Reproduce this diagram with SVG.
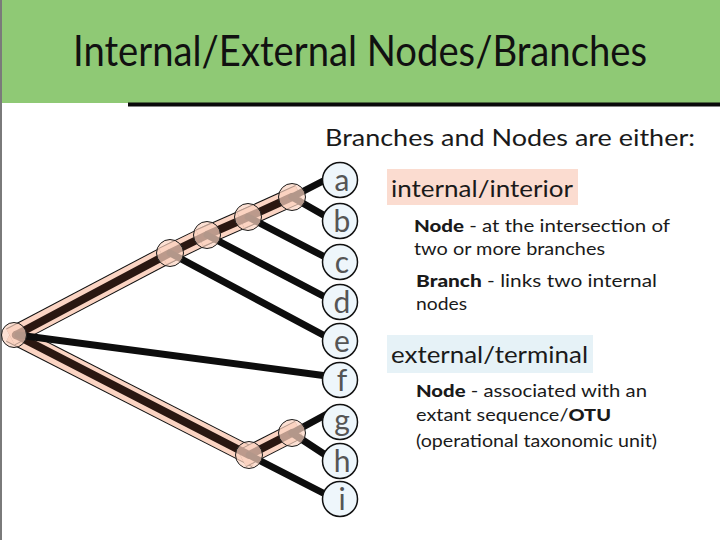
<svg xmlns="http://www.w3.org/2000/svg" width="720" height="540" viewBox="0 0 720 540">
<style>
text{font-family:Lato,"Open Sans","DejaVu Sans",sans-serif}
.title{font-size:43px;fill:#111}
.sub{font-size:23px;fill:#1a1a1a}
.hd{font-size:23.5px;fill:#1a1a1a}
.body{font-size:17px;fill:#1a1a1a}
.b{font-weight:900}
.leaf circle{fill:#eef6fb;stroke:#111;stroke-width:1.5}
.leaf text{font-size:30px;fill:#555;text-anchor:middle}
.inode circle{fill:#fbd3c1;fill-opacity:0.7;stroke:#1a1a1a;stroke-width:1}
.bandO{stroke:#111;stroke-width:19;stroke-linecap:butt}
.bandI{stroke:#fbd4c3;stroke-width:17;stroke-linecap:butt}
.dark{fill:none;stroke:#2a1711;stroke-width:8;stroke-linejoin:round;stroke-linecap:round}
.edge{stroke:#0d0d0d;stroke-width:7;stroke-linecap:round}
</style>
<rect x="0" y="0" width="720" height="540" fill="#ffffff"/>
<rect x="0" y="0" width="720" height="103" fill="#8fc975"/>
<rect x="128" y="102.5" width="592" height="4" fill="#0a0a0a"/>
<rect x="0" y="0" width="2" height="540" fill="#7a7a7a"/>
<text class="title" x="73" y="66" textLength="574" lengthAdjust="spacingAndGlyphs">Internal/External Nodes/Branches</text>

<text class="sub" x="325" y="146" textLength="370" lengthAdjust="spacingAndGlyphs">Branches and Nodes are either:</text>
<rect x="387" y="169" width="191" height="36" fill="#fbdcd0"/>
<text class="hd" x="391" y="197" textLength="182" lengthAdjust="spacingAndGlyphs">internal/interior</text>
<text class="body" x="414" y="232" textLength="256" lengthAdjust="spacingAndGlyphs"><tspan class="b">Node</tspan> - at the intersection of</text>
<text class="body" x="414" y="255" textLength="191" lengthAdjust="spacingAndGlyphs">two or more branches</text>
<text class="body" x="416" y="287" textLength="241" lengthAdjust="spacingAndGlyphs"><tspan class="b">Branch</tspan> - links two internal</text>
<text class="body" x="416" y="310" textLength="51" lengthAdjust="spacingAndGlyphs">nodes</text>
<rect x="387" y="335" width="206" height="38" fill="#e6f2f7"/>
<text class="hd" x="391" y="363" textLength="197" lengthAdjust="spacingAndGlyphs">external/terminal</text>
<text class="body" x="416" y="397" textLength="231" lengthAdjust="spacingAndGlyphs"><tspan class="b">Node</tspan> - associated with an</text>
<text class="body" x="416" y="421" textLength="195" lengthAdjust="spacingAndGlyphs">extant sequence/<tspan class="b">OTU</tspan></text>
<text class="body" x="416" y="447" textLength="241" lengthAdjust="spacingAndGlyphs">(operational taxonomic unit)</text>

<g id="connectors">
  <line class="bandO" x1="10.4" y1="333.2" x2="256.1" y2="458.6"/>
  <line class="bandI" x1="10.4" y1="333.2" x2="256.1" y2="458.6"/>
  <line class="bandO" x1="241.9" y1="458.6" x2="299.1" y2="429.4"/>
  <line class="bandI" x1="241.9" y1="458.6" x2="299.1" y2="429.4"/>
  <line class="bandO" x1="10.5" y1="336.9" x2="177.1" y2="249.3"/>
  <line class="bandI" x1="10.5" y1="336.9" x2="177.1" y2="249.3"/>
  <line class="bandO" x1="162.8" y1="256.5" x2="214.2" y2="231.5"/>
  <line class="bandI" x1="162.8" y1="256.5" x2="214.2" y2="231.5"/>
  <line class="bandO" x1="199.7" y1="238.2" x2="255.3" y2="213.8"/>
  <line class="bandI" x1="199.7" y1="238.2" x2="255.3" y2="213.8"/>
  <line class="bandO" x1="240.7" y1="220.3" x2="299.3" y2="193.7"/>
  <line class="bandI" x1="240.7" y1="220.3" x2="299.3" y2="193.7"/>
  <polyline class="dark" points="16,335 170,253 207,235 248,217 292,197"/>
  <polyline class="dark" points="16,335 249,455 292,433"/>
  <line class="edge" x1="292" y1="197" x2="327" y2="179"/>
  <line class="edge" x1="292" y1="197" x2="327" y2="217"/>
  <line class="edge" x1="248" y1="217" x2="327" y2="258"/>
  <line class="edge" x1="207" y1="235" x2="327" y2="298"/>
  <line class="edge" x1="170" y1="253" x2="327" y2="337"/>
  <line class="edge" x1="18" y1="335" x2="327" y2="376"/>
  <line class="edge" x1="292" y1="433" x2="327" y2="414"/>
  <line class="edge" x1="292" y1="433" x2="327" y2="456"/>
  <line class="edge" x1="249" y1="455" x2="327" y2="495"/>
</g>

<g id="n-root" class="inode"><circle cx="14" cy="335" r="12.5"/></g>
<g id="n-e" class="inode"><circle cx="170" cy="253" r="13.5"/></g>
<g id="n-d" class="inode"><circle cx="207" cy="235" r="13.5"/></g>
<g id="n-c" class="inode"><circle cx="248" cy="217" r="13.5"/></g>
<g id="n-ab" class="inode"><circle cx="292" cy="197" r="13.5"/></g>
<g id="n-ghi" class="inode"><circle cx="249" cy="455" r="13.5"/></g>
<g id="n-gh" class="inode"><circle cx="292" cy="433" r="13.5"/></g>

<g id="leaf-a" class="leaf"><circle cx="340" cy="180" r="17.5"/><text x="342" y="191">a</text></g>
<g id="leaf-b" class="leaf"><circle cx="340" cy="221" r="17.5"/><text x="342" y="232">b</text></g>
<g id="leaf-c" class="leaf"><circle cx="340" cy="262" r="17.5"/><text x="342" y="273">c</text></g>
<g id="leaf-d" class="leaf"><circle cx="340" cy="302" r="17.5"/><text x="342" y="313">d</text></g>
<g id="leaf-e" class="leaf"><circle cx="340" cy="341" r="17.5"/><text x="342" y="352">e</text></g>
<g id="leaf-f" class="leaf"><circle cx="340" cy="380" r="17.5"/><text x="342" y="391">f</text></g>
<g id="leaf-g" class="leaf"><circle cx="340" cy="422" r="17.5"/><text x="342" y="431">g</text></g>
<g id="leaf-h" class="leaf"><circle cx="340" cy="461" r="17.5"/><text x="342" y="472">h</text></g>
<g id="leaf-i" class="leaf"><circle cx="340" cy="499" r="17.5"/><text x="342" y="510">i</text></g>
</svg>
